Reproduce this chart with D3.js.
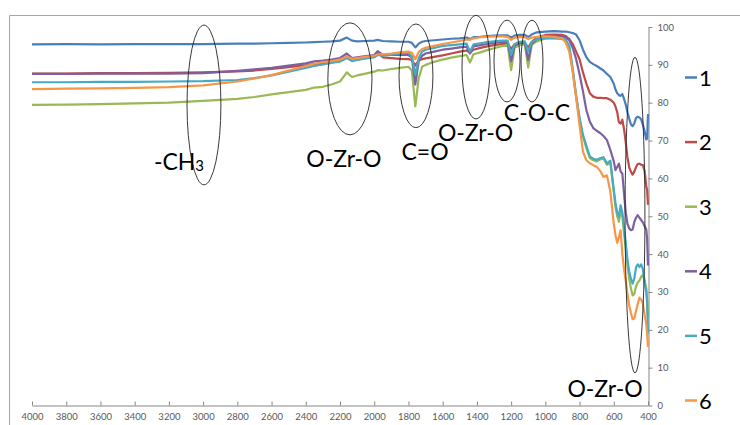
<!DOCTYPE html>
<html>
<head>
<meta charset="utf-8">
<script src="https://cdn.jsdelivr.net/npm/d3@7"></script>
<style>
  html, body { margin: 0; padding: 0; background: #fff; }
  #chart svg { display: block; font-family: Lato, "Liberation Sans", sans-serif; }
</style>
</head>
<body>
<div id="chart"></div>
<script>
// wavenumber grid (cm-1) shared by all six spectra
const wavenumbers = [
  4000, 3800, 3600, 3400, 3200, 3000, 2800, 2700, 2600, 2500,
  2400, 2350, 2300, 2250, 2200, 2160, 2130, 2100, 2050, 2000,
  1980, 1950, 1900, 1850, 1800, 1780, 1760, 1740, 1720, 1700,
  1650, 1600, 1550, 1500, 1460, 1440, 1420, 1380, 1340, 1300,
  1250, 1220, 1200, 1180, 1150, 1120, 1100, 1080, 1050, 1000,
  950, 900, 880, 860, 840, 820, 800, 780, 760, 740,
  720, 700, 680, 660, 640, 620, 600, 590, 580, 570,
  560, 550, 540, 530, 520, 510, 500, 490, 480, 470,
  460, 450, 440, 430, 420, 410, 405, 400
];

const series1 = [
  95.4, 95.5, 95.4, 95.5, 95.5, 95.5, 95.6, 95.6, 95.7, 95.8,
  95.9, 96.0, 96.1, 96.2, 96.4, 97.2, 96.4, 96.2, 96.3, 96.4,
  96.6, 96.3, 96.2, 96.1, 96.1, 95.8, 94.6, 95.6, 96.1, 96.3,
  96.5, 96.7, 96.9, 97.0, 97.2, 96.8, 97.3, 97.4, 97.6, 97.7,
  97.8, 97.8, 97.2, 97.7, 97.9, 97.9, 97.4, 98.0, 98.6, 98.8,
  98.9, 98.8, 98.8, 98.6, 98.4, 98.0, 96.5, 94.0, 92.0, 90.8,
  90.2, 89.7, 89.1, 88.5, 87.6, 86.8, 85.0, 83.5, 82.5, 82.0,
  81.8, 82.3, 81.0, 79.5, 77.5, 75.8, 74.3, 73.8, 74.5, 76.0,
  76.3, 76.1, 75.6, 74.2, 72.5, 70.3, 70.5, 77.0
];

const series2 = [
  87.7, 87.7, 87.8, 87.8, 87.9, 88.0, 88.3, 88.5, 88.9, 89.4,
  89.9, 90.2, 90.4, 90.7, 91.0, 92.2, 91.2, 91.4, 91.8, 92.1,
  93.2, 92.0, 91.8, 91.6, 91.5, 91.3, 89.8, 91.2, 91.5, 91.7,
  92.1, 92.5, 93.0, 93.5, 93.8, 93.2, 94.0, 94.5, 94.9, 95.2,
  95.5, 95.6, 94.2, 95.4, 95.7, 95.8, 94.6, 96.0, 97.2, 97.9,
  98.0, 97.9, 97.6, 96.8, 95.5, 93.5, 91.5, 88.0, 85.0, 82.5,
  81.6, 81.3, 81.3, 81.2, 81.2, 80.8, 80.0, 79.0, 77.5, 74.8,
  74.5, 75.5, 73.0, 69.5, 65.5, 63.0, 61.8, 61.0, 61.8, 63.0,
  63.8, 63.9, 63.6, 63.5, 62.0, 58.0, 56.9, 53.0
];

const series3 = [
  79.4, 79.5, 79.6, 79.8, 80.0, 80.5, 81.0, 81.5, 82.2, 82.8,
  83.4, 84.0, 84.2, 84.8, 85.6, 88.0, 86.8, 87.2, 87.7, 88.2,
  88.6, 88.5, 88.9, 89.2, 89.5, 88.5, 79.0, 86.5, 89.5, 90.0,
  90.8, 91.4, 91.9, 92.3, 92.6, 90.6, 92.8, 93.3, 93.9, 94.4,
  95.0, 95.3, 88.6, 94.5, 95.2, 95.4, 89.3, 95.3, 96.2, 97.0,
  97.0, 96.8, 96.2, 94.5, 88.5, 81.5, 75.5, 71.0, 68.0, 65.4,
  64.8, 64.5, 65.0, 65.2, 63.6, 64.2, 56.5, 52.5, 50.0, 48.5,
  51.5, 50.0, 45.5, 41.5, 37.0, 33.5, 31.0, 29.1, 29.5, 31.5,
  32.5, 33.0, 34.0, 34.5, 33.1, 31.0, 28.0, 23.4
];

const series4 = [
  87.6, 87.6, 87.7, 87.7, 87.7, 87.8, 88.4, 88.8, 89.2, 89.8,
  90.4, 90.9, 91.1, 91.4, 91.8, 93.0, 91.8, 92.0, 92.3, 92.6,
  93.6, 92.6, 92.6, 92.6, 92.6, 92.0, 84.8, 91.0, 92.4, 93.0,
  93.5, 94.0, 94.3, 94.6, 94.8, 93.0, 94.9, 95.2, 95.5, 95.8,
  96.0, 96.0, 91.0, 95.0, 95.8, 95.8, 91.3, 95.6, 96.8, 97.4,
  97.5, 97.4, 97.2, 96.5, 94.5, 91.5, 87.5, 83.0, 78.0, 75.0,
  73.3, 72.6, 72.0, 71.2, 70.1, 67.5, 64.5, 62.2, 63.0, 63.9,
  61.8, 61.3, 56.0, 51.0, 48.0, 46.8, 46.3, 46.5, 48.5, 49.6,
  50.3, 49.6, 49.0, 48.4, 47.4, 46.5, 44.0, 37.0
];

const series5 = [
  85.4, 85.4, 85.5, 85.5, 85.6, 85.7, 86.0, 86.5, 87.2, 88.2,
  89.2, 89.7, 90.1, 90.5, 90.9, 91.8, 91.0, 91.3, 91.7, 92.0,
  92.6, 92.4, 92.7, 93.0, 93.2, 92.2, 87.4, 91.8, 93.5, 94.0,
  94.5, 95.0, 95.2, 95.4, 95.6, 93.5, 95.4, 95.7, 96.0, 96.2,
  96.4, 96.4, 92.6, 95.5, 96.1, 96.2, 93.5, 96.0, 96.8, 97.0,
  97.1, 97.0, 96.6, 95.0, 89.0, 82.0, 76.0, 71.5, 68.6, 65.8,
  65.2, 64.9, 65.3, 65.6, 64.0, 64.7, 57.0, 53.5, 51.0, 49.8,
  52.9, 51.0, 47.0, 43.0, 38.5, 35.5, 33.5, 32.2, 33.5, 36.5,
  37.3, 36.6, 37.3, 36.0, 32.5, 30.0, 27.0, 19.0
];

const series6 = [
  83.6, 83.7, 83.8, 83.9, 84.1, 84.6, 85.6, 86.4, 87.3, 88.5,
  89.7, 90.3, 90.7, 91.0, 91.4, 92.2, 91.6, 91.8, 92.1, 92.4,
  92.8, 92.8, 93.0, 93.3, 93.5, 93.2, 91.5, 93.4, 94.2, 94.5,
  95.0, 95.5, 95.9, 96.3, 96.7, 96.6, 97.0, 97.3, 97.4, 97.5,
  97.5, 97.4, 96.6, 97.2, 97.3, 97.3, 96.8, 97.2, 97.4, 97.5,
  97.4, 97.0, 95.8, 93.5, 88.0, 81.5, 74.0, 67.0, 64.8, 64.0,
  63.5, 63.1, 62.0, 60.4, 60.8, 56.5, 48.0, 45.0, 43.0, 44.5,
  46.3, 40.0, 36.0, 33.0, 29.5, 26.5, 24.5, 22.8, 23.0, 25.0,
  26.8, 28.5, 28.0, 27.0, 24.0, 21.5, 19.0, 15.5
];

const seriesNames = ["1", "2", "3", "4", "5", "6"];
const seriesColors = ["#4a7ebb", "#be4b48", "#98b954", "#7d60a0", "#46aac5", "#f79646"];
const xTickValues = [4000, 3800, 3600, 3400, 3200, 3000, 2800, 2600, 2400, 2200,
  2000, 1800, 1600, 1400, 1200, 1000, 800, 600, 400];
const yTickValues = [0, 10, 20, 30, 40, 50, 60, 70, 80, 90, 100];

// ellipses marking the bands, in data units (centre and half-extents)
const bandCx = [2995, 2142, 1756, 1405, 1224, 1078, 476];
const bandCy = [79.4, 86.3, 87.1, 89.4, 91.0, 91.0, 50.3];
const bandRx = [99, 129, 99, 82, 76, 64, 58];
const bandRy = [21.1, 14.8, 13.7, 13.7, 10.8, 10.8, 41.7];

// band labels: text, optional subscript, anchor position in data units
const bandText = ["-CH", "O-Zr-O", "C=O", "O-Zr-O", "C-O-C", "O-Zr-O"];
const bandSub = ["3", "", "", "", "", ""];
const bandLabelX = [3141, 2177, 1703, 1408, 1049, 651];
const bandLabelY = [62.2, 63.0, 64.9, 69.9, 75.2, 2.2];

(function () {
  const width = 740;
  const height = 425;
  const data = [series1, series2, series3, series4, series5, series6];

  const svg = d3.select("#chart").append("svg")
    .attr("width", width)
    .attr("height", height);

  // outer frame (top and left edges visible)
  svg.append("path")
    .attr("d", "M9.5,425 L9.5,15.5 L740,15.5")
    .attr("fill", "none")
    .attr("stroke", "#a6a6a6")
    .attr("stroke-width", 1);

  const x = d3.scaleLinear().domain([4000, 400]).range([32, 648]);
  const y = d3.scaleLinear().domain([0, 100]).range([405.5, 27]);

  const xAxis = svg.append("g")
    .attr("transform", "translate(0,405.5)")
    .call(d3.axisBottom(x).tickValues(xTickValues).tickFormat(d3.format("d"))
      .tickSizeInner(-4).tickSizeOuter(0).tickPadding(8));

  const yAxis = svg.append("g")
    .attr("transform", "translate(648.5,0)")
    .call(d3.axisRight(y).tickValues(yTickValues).tickFormat(d3.format("d"))
      .tickSizeInner(4).tickSizeOuter(0).tickPadding(5));

  [xAxis, yAxis].forEach((g) => {
    g.select(".domain").attr("stroke", "#868686");
    g.selectAll(".tick line").attr("stroke", "#868686");
    g.selectAll(".tick text")
      .attr("fill", "#595959")
      .style("font-size", "9.5px")
      .style("font-family", "Lato, 'Liberation Sans', sans-serif");
  });

  const line = d3.line()
    .x((d, i) => x(wavenumbers[i]))
    .y((d) => y(d));

  data.forEach((values, k) => {
    svg.append("path")
      .datum(values)
      .attr("fill", "none")
      .attr("stroke", seriesColors[k])
      .attr("stroke-width", 2.2)
      .attr("stroke-linejoin", "round")
      .attr("d", line);
  });

  // band ellipses
  bandCx.forEach((cx, i) => {
    svg.append("ellipse")
      .attr("cx", x(cx))
      .attr("cy", y(bandCy[i]))
      .attr("rx", Math.abs(x(cx + bandRx[i]) - x(cx)))
      .attr("ry", Math.abs(y(bandCy[i] + bandRy[i]) - y(bandCy[i])))
      .attr("fill", "none")
      .attr("stroke", "#222")
      .attr("stroke-width", 0.9);
  });

  // band labels
  bandText.forEach((t, i) => {
    const label = svg.append("text")
      .attr("x", x(bandLabelX[i]))
      .attr("y", y(bandLabelY[i]))
      .attr("text-anchor", "middle")
      .attr("fill", "#000")
      .style("font-size", "23px");
    label.append("tspan").text(t);
    if (bandSub[i]) {
      label.append("tspan")
        .attr("dy", 1)
        .style("font-size", "15px")
        .text(bandSub[i]);
    }
  });

  // legend
  const legend = svg.append("g").attr("transform", "translate(685,0)");
  seriesNames.forEach((name, i) => {
    const ly = 77.5 + i * 64.6;
    legend.append("line")
      .attr("x1", 0).attr("x2", 12)
      .attr("y1", ly).attr("y2", ly)
      .attr("stroke", seriesColors[i])
      .attr("stroke-width", 2.5);
    legend.append("text")
      .attr("x", 14)
      .attr("y", ly + 8)
      .attr("fill", "#000")
      .style("font-size", "22px")
      .text(name);
  });
})();
</script>
</body>
</html>
